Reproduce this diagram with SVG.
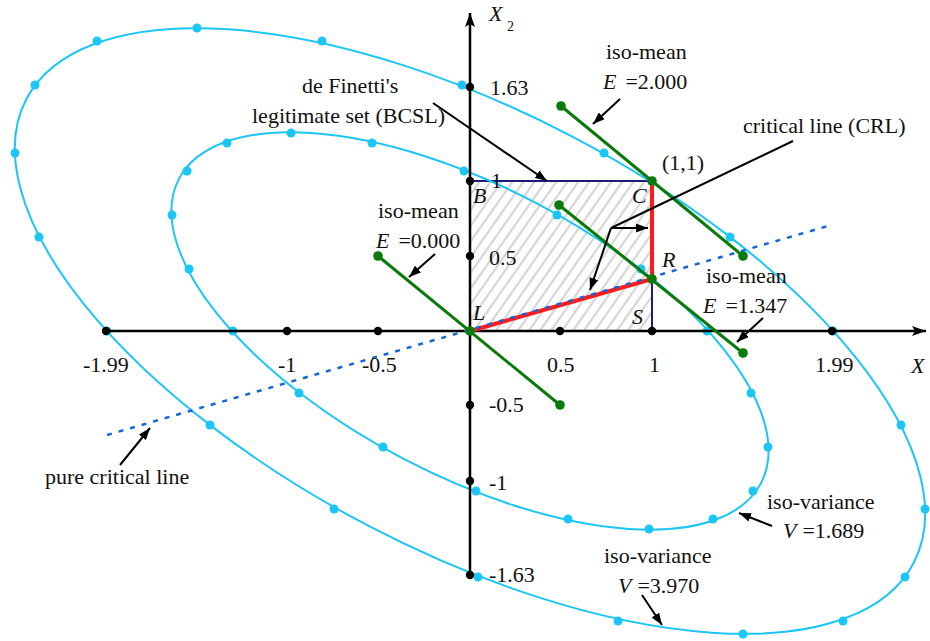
<svg xmlns="http://www.w3.org/2000/svg" width="930" height="641" viewBox="0 0 930 641">
<style>
text{font-family:"Liberation Serif","Times New Roman",serif;font-size:22px;fill:#111}
.it{font-style:italic}
.ell{fill:none;stroke:#1cc6f4;stroke-width:2}
.cd circle{fill:#1cc6f4;r:4.5px}
.bd circle{fill:#000;r:4.2px}
.gd circle{fill:#0a7a0a;r:4.8px}
.gl{stroke:#0a7a0a;stroke-width:3;fill:none}
.ax{stroke:#000;stroke-width:2.5;fill:none}
.arr{stroke:#000;stroke-width:2;fill:none;marker-end:url(#ah)}
.nv{stroke:#1c1c7a;stroke-width:2;fill:none}
.rd{stroke:#ff1a1a;stroke-width:4;fill:none}
.pcl{stroke:#1566d6;stroke-width:2.5;fill:none;stroke-dasharray:5 7}
</style>
<defs>
<marker id="ah" viewBox="0 0 12 9" refX="12" refY="4.5" markerWidth="12" markerHeight="9" markerUnits="userSpaceOnUse" orient="auto"><path d="M0,0 L12,4.5 L0,9 z" fill="#000"/></marker>
<marker id="axh" viewBox="0 0 14 10" refX="14" refY="5" markerWidth="14" markerHeight="10" markerUnits="userSpaceOnUse" orient="auto"><path d="M0,0 L14,5 L0,10 L3,5 z" fill="#000"/></marker>
<pattern id="hatch" patternUnits="userSpaceOnUse" width="9" height="9" patternTransform="rotate(35)"><rect width="9" height="9" fill="#fff"/><line x1="2" y1="0" x2="2" y2="9" stroke="#d6d6d6" stroke-width="2.2"/></pattern>
</defs>
<rect width="930" height="641" fill="#fff"/>

<g id="bcsl-set">
<rect x="470" y="181" width="182" height="150" fill="url(#hatch)"/>
<line class="nv" x1="470" y1="181" x2="652" y2="181"/>
<line class="nv" x1="652" y1="181" x2="652" y2="331"/>
</g>

<g id="iso-variance-outer">
<ellipse class="ell" cx="470" cy="331" rx="500.6" ry="219.7" transform="rotate(27.6 470 331)"/>
<g class="cd">
<circle cx="197" cy="28" r="4.5"/><circle cx="743" cy="634" r="4.5"/>
<circle cx="97" cy="41" r="4.5"/><circle cx="843" cy="621" r="4.5"/>
<circle cx="322" cy="41" r="4.5"/><circle cx="618" cy="621" r="4.5"/>
<circle cx="462" cy="85" r="4.5"/><circle cx="478" cy="577" r="4.5"/>
<circle cx="35" cy="85" r="4.5"/><circle cx="905" cy="577" r="4.5"/>
<circle cx="15" cy="153" r="4.5"/><circle cx="925" cy="509" r="4.5"/>
<circle cx="39" cy="237" r="4.5"/><circle cx="901" cy="425" r="4.5"/>
<circle cx="107" cy="331" r="4.5"/><circle cx="833" cy="331" r="4.5"/>
<circle cx="210" cy="425" r="4.5"/><circle cx="730" cy="237" r="4.5"/>
<circle cx="334" cy="509" r="4.5"/><circle cx="604" cy="153" r="4.5"/>
</g>
</g>

<g id="iso-variance-inner">
<ellipse class="ell" cx="470" cy="331" rx="328.4" ry="144.1" transform="rotate(27.6 470 331)"/>
<g class="cd">
<circle cx="291" cy="133" r="4.5"/><circle cx="649" cy="529" r="4.5"/>
<circle cx="227" cy="143" r="4.5"/><circle cx="713" cy="519" r="4.5"/>
<circle cx="372" cy="143" r="4.5"/><circle cx="568" cy="519" r="4.5"/>
<circle cx="187" cy="171" r="4.5"/><circle cx="753" cy="491" r="4.5"/>
<circle cx="464" cy="171" r="4.5"/><circle cx="476" cy="491" r="4.5"/>
<circle cx="172" cy="215" r="4.5"/><circle cx="768" cy="447" r="4.5"/>
<circle cx="189" cy="269" r="4.5"/><circle cx="751" cy="393" r="4.5"/>
<circle cx="233" cy="331" r="4.5"/><circle cx="707" cy="331" r="4.5"/>
<circle cx="299" cy="393" r="4.5"/><circle cx="641" cy="269" r="4.5"/>
<circle cx="383" cy="447" r="4.5"/><circle cx="557" cy="215" r="4.5"/>
</g>
</g>

<g id="axes">
<line class="ax" x1="105" y1="331" x2="926" y2="331" marker-end="url(#axh)"/>
<line class="ax" x1="470" y1="575" x2="470" y2="13" marker-end="url(#axh)"/>
<g class="bd">
<circle cx="106" cy="331" r="4.2"/><circle cx="287" cy="331" r="4.2"/><circle cx="378" cy="331" r="4.2"/>
<circle cx="560" cy="331" r="4.2"/><circle cx="652" cy="331" r="4.2"/><circle cx="832" cy="331" r="4.2"/>
<circle cx="470" cy="87" r="4.2"/><circle cx="470" cy="181" r="4.2"/><circle cx="470" cy="256" r="4.2"/>
<circle cx="470" cy="405" r="4.2"/><circle cx="470" cy="481" r="4.2"/><circle cx="470" cy="575" r="4.2"/>
</g>
</g>

<g id="critical-line">
<line class="rd" x1="652" y1="181" x2="652" y2="279"/>
<line class="rd" x1="652" y1="279" x2="470" y2="331"/>
</g>

<g id="pure-critical-line">
<line class="pcl" x1="107" y1="435" x2="828" y2="226"/>
</g>

<g id="iso-mean-lines">
<line class="gl" x1="561" y1="106" x2="743" y2="256"/>
<line class="gl" x1="559" y1="205" x2="743" y2="353"/>
<line class="gl" x1="378" y1="256" x2="560" y2="405"/>
<g class="gd">
<circle cx="561" cy="106" r="4.8"/><circle cx="743" cy="256" r="4.8"/>
<circle cx="559" cy="205" r="4.8"/><circle cx="743" cy="353" r="4.8"/>
<circle cx="378" cy="256" r="4.8"/><circle cx="560" cy="405" r="4.8"/>
<circle cx="652" cy="181" r="4.8"/><circle cx="652" cy="279" r="4.8"/><circle cx="470" cy="331" r="4.8"/>
</g>
</g>

<g id="connectors">
<line class="arr" x1="433" y1="103" x2="547" y2="181"/>
<line class="arr" x1="435" y1="254" x2="409" y2="277"/>
<line class="arr" x1="620" y1="99" x2="593" y2="124"/>
<polyline points="793,141 611,228" stroke="#000" stroke-width="2" fill="none"/>
<line class="arr" x1="611" y1="228" x2="648" y2="228"/>
<line class="arr" x1="611" y1="228" x2="590" y2="290"/>
<line class="arr" x1="763" y1="318" x2="737" y2="342"/>
<line class="arr" x1="772" y1="526" x2="739" y2="513"/>
<line class="arr" x1="642" y1="595" x2="662" y2="625"/>
<line class="arr" x1="120" y1="465" x2="150" y2="428"/>
</g>

<g id="labels">
<text x="489" y="21" class="it">X</text><text x="507" y="31" style="font-size:14px">2</text>
<text x="490" y="95">1.63</text>
<text x="491" y="188">1</text>
<text x="489" y="265">0.5</text>
<text x="489" y="412">-0.5</text>
<text x="489" y="490">-1</text>
<text x="489" y="582">-1.63</text>
<text x="83" y="372">-1.99</text>
<text x="278" y="372">-1</text>
<text x="362" y="372">-0.5</text>
<text x="547" y="372">0.5</text>
<text x="649" y="372">1</text>
<text x="815" y="372">1.99</text>
<text x="911" y="373" class="it">X</text>
<text x="473" y="203" class="it">B</text>
<text x="632" y="203" class="it">C</text>
<text x="662" y="267" class="it">R</text>
<text x="473" y="320" class="it">L</text>
<text x="632" y="324" class="it">S</text>
<text x="662" y="170">(1,1)</text>
<text x="302" y="93">de Finetti's</text>
<text x="252" y="123">legitimate set (BCSL)</text>
<text x="606" y="59">iso-mean</text>
<text x="603" y="89"><tspan class="it">E</tspan><tspan dx="9">=2.000</tspan></text>
<text x="743" y="133">critical line (CRL)</text>
<text x="378" y="218">iso-mean</text>
<text x="376" y="248"><tspan class="it">E</tspan><tspan dx="9">=0.000</tspan></text>
<text x="706" y="283">iso-mean</text>
<text x="703" y="313"><tspan class="it">E</tspan><tspan dx="9">=1.347</tspan></text>
<text x="45" y="484">pure critical line</text>
<text x="767" y="509">iso-variance</text>
<text x="783" y="538"><tspan class="it">V</tspan><tspan dx="6">=1.689</tspan></text>
<text x="604" y="563">iso-variance</text>
<text x="618" y="593"><tspan class="it">V</tspan><tspan dx="6">=3.970</tspan></text>
</g>
</svg>
